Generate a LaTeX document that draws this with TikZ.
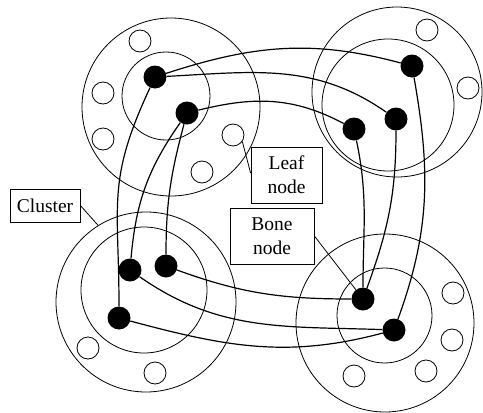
\documentclass[tikz,border=0pt]{standalone}
\usepackage{fontspec}
\setmainfont{Liberation Serif}
\begin{document}
\begin{tikzpicture}[x=1pt,y=1pt,
  ring/.style={draw, circle, inner sep=0pt, line width=0.8pt},
  bone/.style={circle, fill=black, inner sep=0pt, minimum size=23pt},
  leaf/.style={draw, circle, fill=white, inner sep=0pt, minimum size=22pt, line width=0.8pt},
  link/.style={line width=1.2pt},
  lbl/.style={draw, fill=white, line width=0.8pt, align=center, inner sep=0pt, font=\fontsize{19.5}{24}\selectfont},
  ptr/.style={line width=0.8pt}]
\useasboundingbox (0,0) rectangle (483,-413);
% clusters
\node[ring, minimum size=178pt] (TLo) at (171,-107) {};
\node[ring, minimum size=88pt]  (TLi) at (166,-96) {};
\node[ring, minimum size=170pt] (TRo) at (397,-92) {};
\node[ring, minimum size=132pt] (TRi) at (388,-105) {};
\node[ring, minimum size=180pt] (BLo) at (146,-302) {};
\node[ring, minimum size=126pt] (BLi) at (144,-290) {};
\node[ring, minimum size=178pt] (BRo) at (385,-323) {};
\node[ring, minimum size=95pt]  (BRi) at (384.5,-315.5) {};
% leaf nodes
\node[leaf] (l1) at (140,-41) {};
\node[leaf] (l2) at (103,-93) {};
\node[leaf] (l3) at (103,-139) {};
\node[leaf] (l4) at (233,-135) {};
\node[leaf] (l5) at (202,-172) {};
\node[leaf] (l6) at (427,-30) {};
\node[leaf] (l7) at (468,-88) {};
\node[leaf] (l8) at (88,-348) {};
\node[leaf] (l9) at (155,-373) {};
\node[leaf] (l10) at (453,-293) {};
\node[leaf] (l11) at (452,-340) {};
\node[leaf] (l12) at (426,-371) {};
\node[leaf] (l13) at (354,-376) {};
% bone nodes
\node[bone] (A1) at (155,-77) {};
\node[bone] (A2) at (187,-113) {};
\node[bone] (B1) at (412,-66) {};
\node[bone] (B2) at (396,-119) {};
\node[bone] (B3) at (354,-129) {};
\node[bone] (C1) at (130,-270) {};
\node[bone] (C2) at (166,-266) {};
\node[bone] (C3) at (119,-318) {};
\node[bone] (D1) at (363,-299) {};
\node[bone] (D2) at (394,-330) {};
% links
\draw[link] (A1) to[out=18, in=165] (B1);
\draw[link] (A1) to[out=3, in=145] (B2);
\draw[link] (A2) to[out=14, in=152] (B3);
\draw[link] (A1) to[out=245, in=90, looseness=1.2] (C3);
\draw[link] (A2) to[out=235, in=85] (C1);
\draw[link] (A2) to[out=255, in=90] (C2);
\draw[link] (B1) to[out=-80, in=70] (D2);
\draw[link] (B2) to[out=-90, in=70] (D1);
\draw[link] (B3) to[out=-78, in=90] (D1);
\draw[link] (C2) to[out=-20, in=180] (D1);
\draw[link] (C1) to[out=-35, in=178] (D2);
\draw[link] (C3) to[out=-15, in=195] (D2);
% labels
\node[lbl, minimum width=70pt, minimum height=33pt] (clu) at (45,-205.5) {Cluster};
\node[lbl, minimum width=71pt, minimum height=56pt] (leafl) at (286.5,-175) {Leaf\\node};
\node[lbl, minimum width=84pt, minimum height=56pt] (bonel) at (272,-236) {Bone\\node};
\draw[ptr] (clu.east) -- (BLo.122);
\draw[ptr] (l4.-35) -- ([yshift=2pt]leafl.west);
\draw[ptr] (bonel.east) -- (D1);
\end{tikzpicture}
\end{document}
